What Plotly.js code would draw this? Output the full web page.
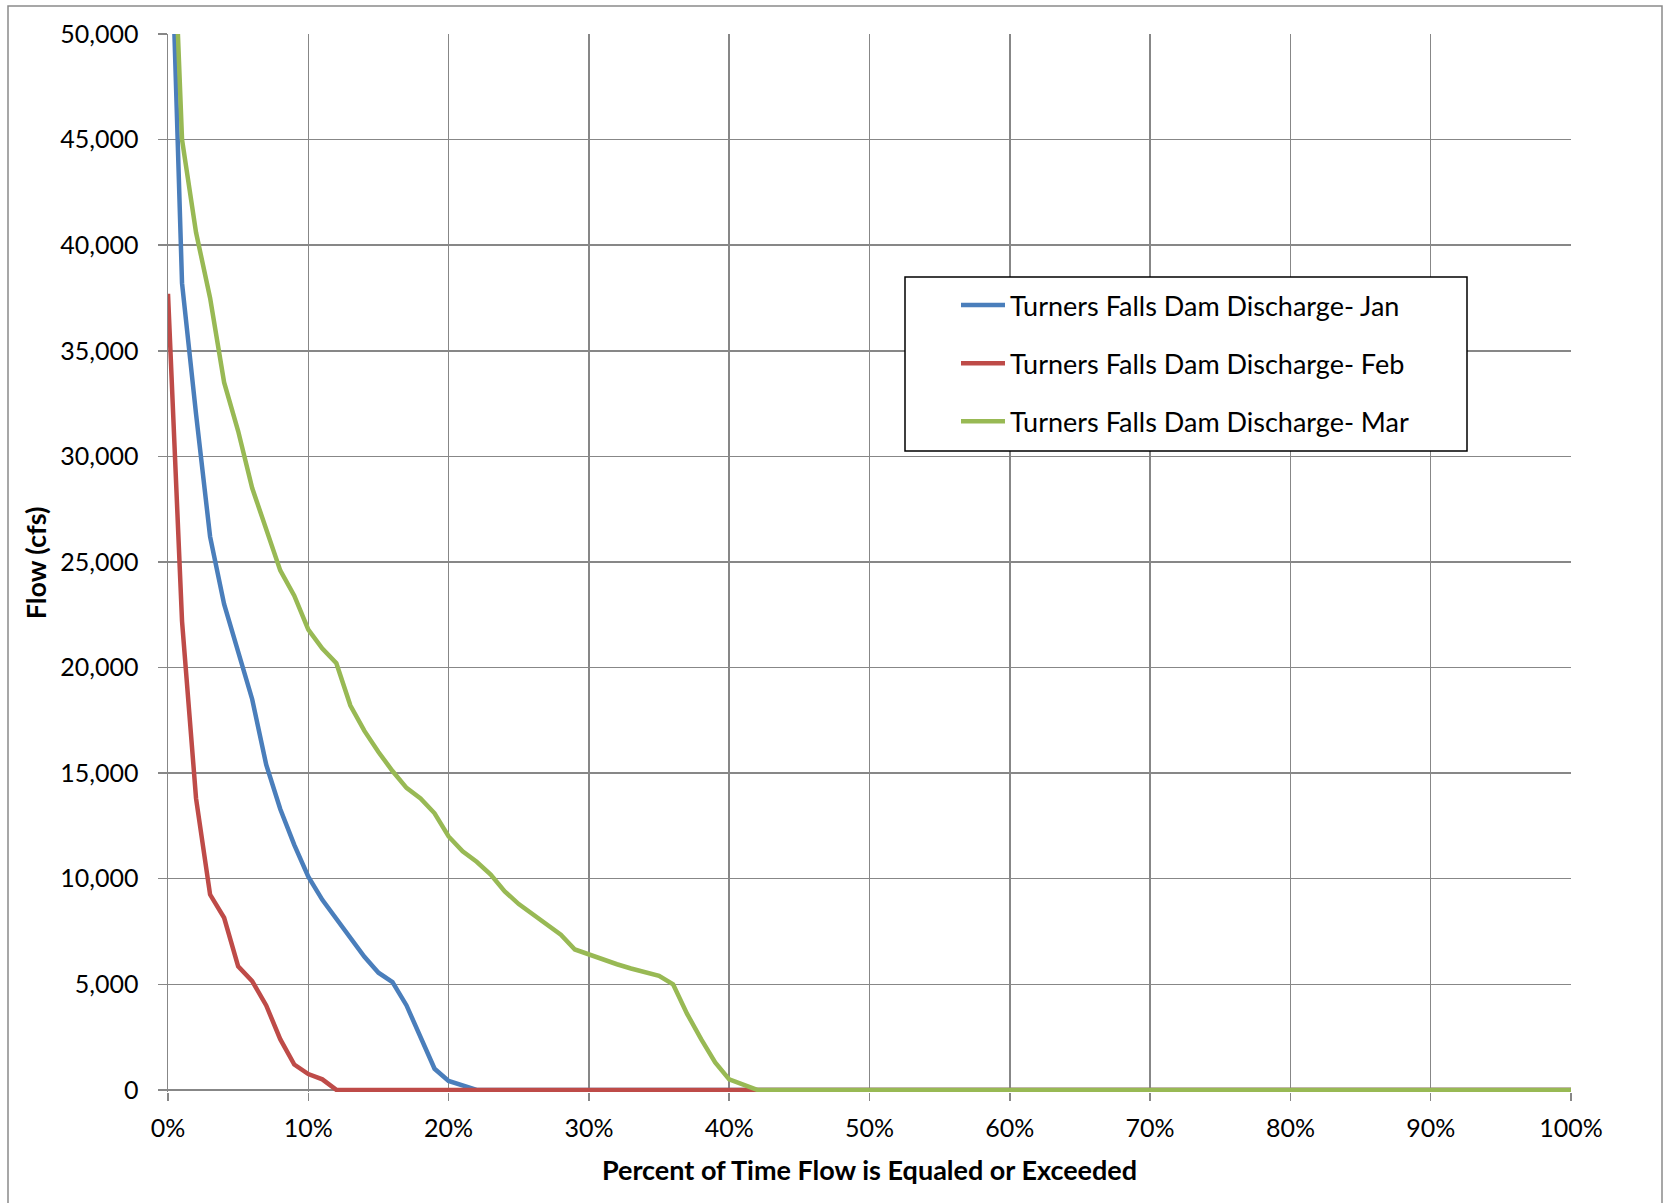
<!DOCTYPE html>
<html>
<head>
<meta charset="utf-8">
<script src="https://cdn.plot.ly/plotly-3.0.1.min.js"></script>
<style>
  html, body { margin: 0; padding: 0; background: #fff; }
  #chart { width: 1663px; height: 1203px; }
</style>
</head>
<body>
<div id="chart"></div>
<script>
// Percent of time flow is equaled or exceeded (x values)
const pct = [0,1,2,3,4,5,6,7,8,9,10,11,12,13,14,15,16,17,18,19,20,21,22,23,24,25,26,27,28,29,30,31,32,33,34,35,36,37,38,39,40,41,42,100];

// Flow (cfs) values
const janFlow = [60000,38200,32000,26200,23000,20800,18500,15400,13300,11600,10100,9000,8100,7200,6300,5550,5100,4000,2500,1000,420,200,0,0,0,0,0,0,0,0,0,0,0,0,0,0,0,0,0,0,0,0,0,0];
const febFlow = [37700,22200,13800,9250,8150,5850,5150,4000,2400,1200,750,500,0,0,0,0,0,0,0,0,0,0,0,0,0,0,0,0,0,0,0,0,0,0,0,0,0,0,0,0,0,0,0,0];
const marFlow = [62000,45000,40600,37500,33500,31200,28500,26500,24600,23400,21800,20900,20200,18200,17000,16000,15100,14300,13800,13100,12000,11300,10800,10200,9400,8800,8300,7850,7350,6650,6400,6200,5950,5750,5550,5400,5000,3600,2400,1300,500,250,0,0];

const seriesNames = ["Turners Falls Dam Discharge- Jan","Turners Falls Dam Discharge- Feb","Turners Falls Dam Discharge- Mar"];
const seriesColors = ["#4A7EBB","#BE4B48","#98B954"];
const seriesValues = [janFlow, febFlow, marFlow];

const xTickVals = [0,10,20,30,40,50,60,70,80,90,100];
const yTickVals = [0,5000,10000,15000,20000,25000,30000,35000,40000,45000,50000];

const FONT = "Lato, 'Liberation Sans', Arial, sans-serif";
const GRID = "#878787";

const traces = seriesValues.map((vals, i) => ({
  type: "scatter",
  mode: "lines",
  x: pct,
  y: vals,
  name: seriesNames[i],
  legendgroup: "g" + i,
  line: { color: seriesColors[i], width: 4.5 },
  hoverinfo: "skip"
}));

const L = 168, R = 92, T = 34, B = 111;
const W = 1663, H = 1203;
const pw = W - L - R, ph = H - T - B;
const px = v => (v - L) / pw;
const py = v => 1 - (v - T) / ph;

const layout = {
  width: W,
  height: H,
  margin: { l: L, r: R, t: T, b: B, pad: 0 },
  paper_bgcolor: "#ffffff",
  plot_bgcolor: "#ffffff",
  font: { family: FONT, size: 25, color: "#000000" },
  showlegend: true,
  legend: {
    x: px(956), y: py(281), xanchor: "left", yanchor: "top",
    bgcolor: "rgba(0,0,0,0)",
    borderwidth: 0,
    font: { family: FONT, size: 27, color: "#000" },
    traceorder: "grouped",
    tracegroupgap: 20,
    itemwidth: 44
  },
  xaxis: {
    range: [0, 100],
    tickmode: "array",
    tickvals: xTickVals,
    ticktext: xTickVals.map(v => v + "%"),
    showgrid: true,
    gridcolor: GRID,
    gridwidth: 1.5,
    zeroline: false,
    showline: false,
    ticks: "outside",
    ticklen: 8,
    tickwidth: 1.5,
    tickcolor: GRID,
    ticklabelstandoff: 6,
    tickfont: { family: FONT, size: 25, color: "#000" },
    title: { text: "<b>Percent of Time Flow is Equaled or Exceeded</b>", font: { family: FONT, size: 27, color: "#000" }, standoff: 20 },
    fixedrange: true
  },
  yaxis: {
    range: [-100, 50000],
    tickmode: "array",
    tickvals: yTickVals,
    ticktext: yTickVals.map(v => v.toLocaleString("en-US")),
    showgrid: true,
    gridcolor: GRID,
    gridwidth: 1.5,
    zeroline: false,
    showline: true,
    linecolor: GRID,
    linewidth: 1.5,
    ticks: "outside",
    ticklen: 9,
    tickwidth: 1.5,
    tickcolor: GRID,
    ticklabelstandoff: 14,
    tickfont: { family: FONT, size: 25, color: "#000" },
    title: { text: "<b>Flow (cfs)</b>", font: { family: FONT, size: 27, color: "#000" }, standoff: 6 },
    fixedrange: true
  },
  shapes: [
    // legend box (opaque, covers gridlines)
    { type: "rect", xref: "paper", yref: "paper", x0: px(905), x1: px(1467), y0: py(451), y1: py(277),
      line: { color: "#000000", width: 1.5 }, fillcolor: "#ffffff", layer: "above" },
    // outer chart border
    { type: "rect", xref: "paper", yref: "paper", x0: px(8), x1: px(1662), y0: py(1215), y1: py(6),
      line: { color: "#8a8a8a", width: 1.5 }, fillcolor: "rgba(0,0,0,0)", layer: "below" }
  ]
};

Plotly.newPlot("chart", traces, layout, { displayModeBar: false, staticPlot: true });
</script>
</body>
</html>
